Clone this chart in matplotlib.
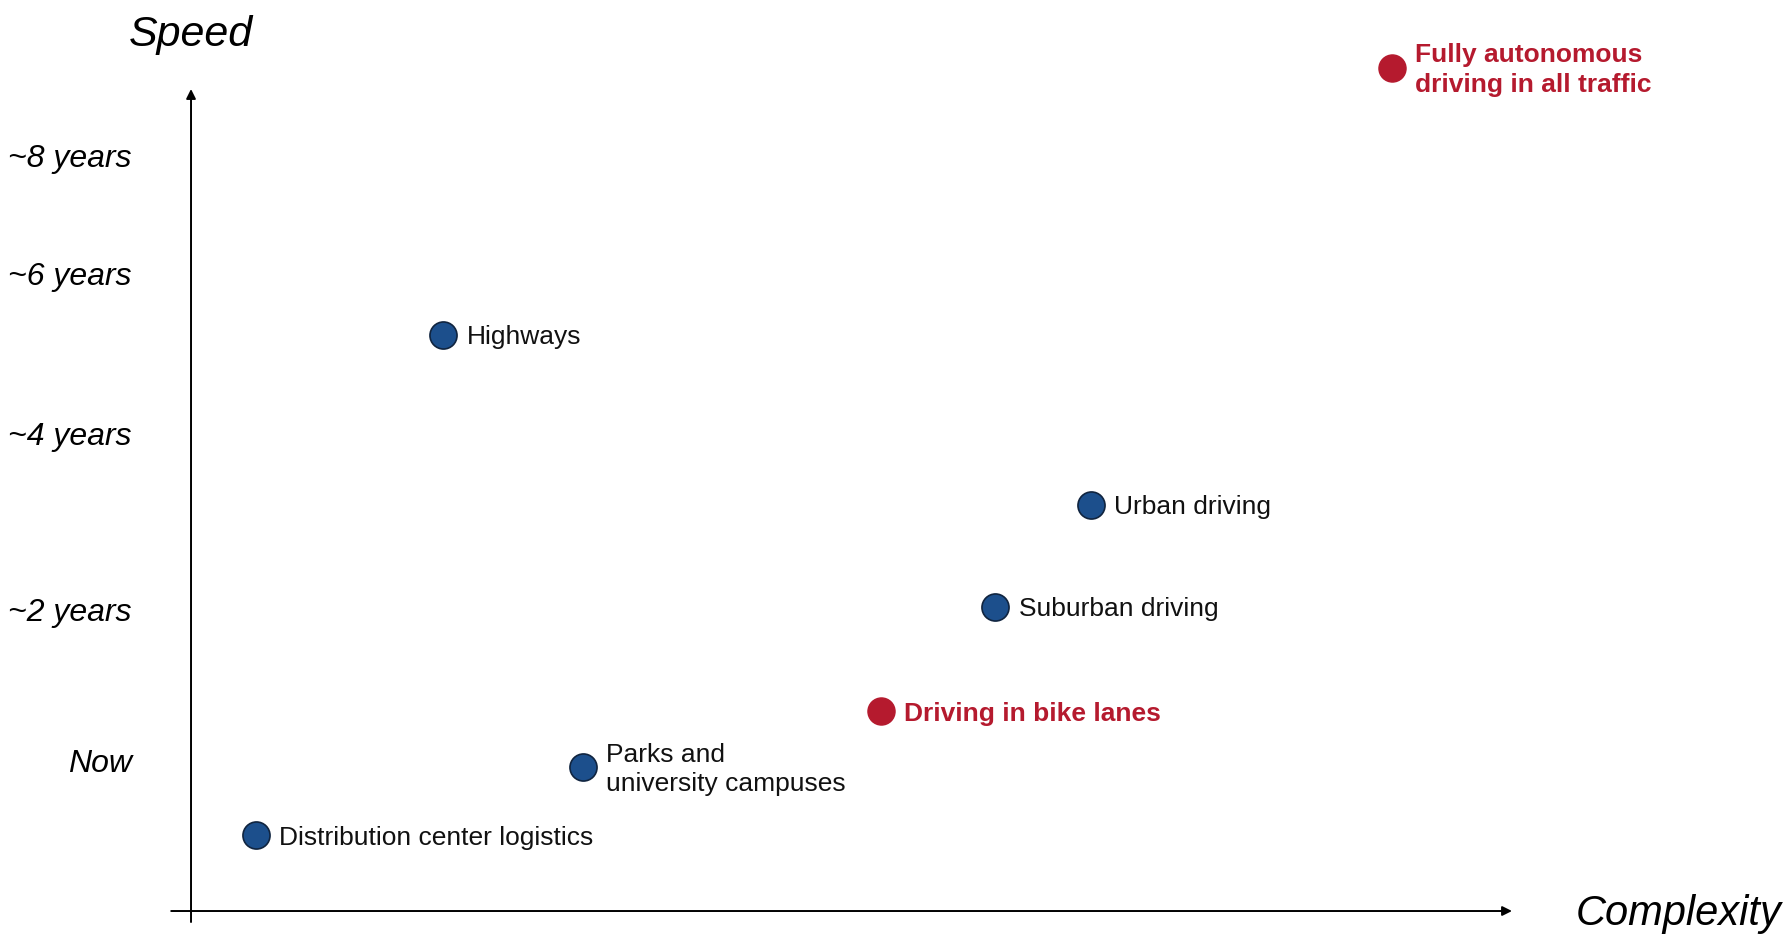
import matplotlib
matplotlib.use("Agg")
import matplotlib.pyplot as plt

plt.rcParams['font.family'] = ['Liberation Sans', 'DejaVu Sans']

# Data (complexity 0-100, speed position 0-100 along axis)
labels = ["Highways", "Urban driving", "Suburban driving", "Driving in bike lanes",
          "Parks and\nuniversity campuses", "Distribution center logistics",
          "Fully autonomous\ndriving in all traffic"]
complexity = [19.1, 68.1, 60.9, 52.2, 29.7, 4.9, 90.9]
speed = [70.1, 49.4, 37.0, 24.3, 17.5, 9.2, 102.6]
highlight = [False, False, False, True, False, False, True]

tick_labels = ["Now", "~2 years", "~4 years", "~6 years", "~8 years"]
tick_pos = [18.2, 36.6, 58.0, 77.5, 91.8]

BLUE = "#1c4f8c"
RED = "#b51a2e"

fig = plt.figure(figsize=(17.89, 9.42), dpi=100)
ax = fig.add_axes([0, 0, 1, 1])
ax.set_xlim(-14.46, 120.97)
ax.set_ylim(-3.77, 110.83)
ax.axis('off')

# axes arrows
ax.annotate('', xy=(100, 0), xytext=(-1.5, 0),
            arrowprops=dict(arrowstyle='-|>', lw=1.4, color='black', mutation_scale=14, shrinkA=0, shrinkB=0))
ax.annotate('', xy=(0, 100), xytext=(0, -1.34),
            arrowprops=dict(arrowstyle='-|>', lw=1.4, color='black', mutation_scale=14, shrinkA=0, shrinkB=0))

ax.text(0, 106.6, "Speed", fontsize=31, style='italic', ha='center', va='center')
ax.text(112.6, -0.4, "Complexity", fontsize=30, style='italic', ha='center', va='center')

for t, p in zip(tick_labels, tick_pos):
    ax.text(-4.47, p - 0.35, t, fontsize=23, style='italic', ha='right', va='center')

for lab, x, y, h in zip(labels, complexity, speed, highlight):
    if h:
        ax.scatter([x], [y], s=380, color=RED, edgecolors=RED, linewidths=1, zorder=3)
        ax.text(x + 1.75, y - 0.3, lab, fontsize=19, fontweight='bold', color=RED,
                ha='left', va='center', linespacing=1.3)
    else:
        ax.scatter([x], [y], s=380, color=BLUE, edgecolors='#10243f', linewidths=1.2, zorder=3)
        ax.text(x + 1.75, y - 0.3, lab, fontsize=19, color='#111111',
                ha='left', va='center', linespacing=1.3)

fig.savefig("out.png", dpi=100)
